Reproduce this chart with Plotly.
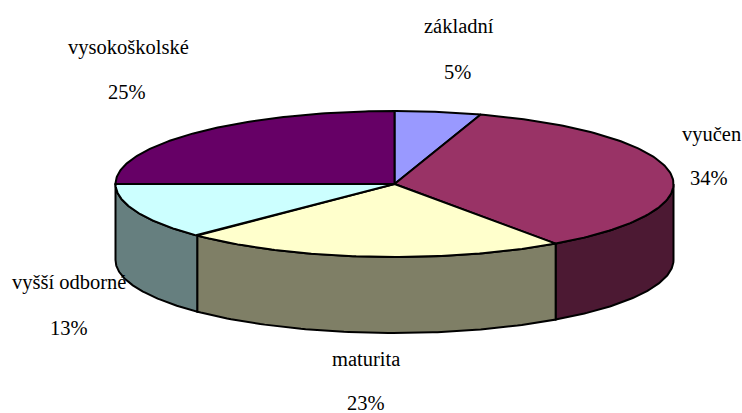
import numpy as np
import plotly.graph_objects as go

categories = ["základní", "vyučen", "maturita", "vyšší odborné", "vysokoškolské"]
values = [5.0, 35.2, 22.3, 12.5, 25.0]
percent_labels = ["5%", "34%", "23%", "13%", "25%"]
top_colors = ["#9999FF", "#993366", "#FFFFCC", "#CCFFFF", "#660066"]
side_colors = ["#4C4C7F", "#4C1933", "#7F7F66", "#667F7F", "#330033"]
label_centers = [(459, 26), (711, 134), (366, 359), (69, 282), (128, 47)]
percent_centers = [(457, 72), (709, 178), (366, 403), (69, 328), (127, 92)]

CX, CY, RX, RY, DEPTH = 394.5, 184, 279, 73, 76


def point(t, dz=0.0):
    return CX + RX * np.sin(t), CY - RY * np.cos(t) + dz


fig = go.Figure()
line = dict(color="black", width=2)
edges = np.cumsum([0] + values) / sum(values) * 2 * np.pi


def poly(xs, ys, color):
    fig.add_trace(go.Scatter(x=list(xs), y=list(ys), mode="lines", fill="toself",
                             fillcolor=color, line=line, hoverinfo="skip", showlegend=False))


for i in range(len(values)):
    a, b = max(edges[i], np.pi / 2), min(edges[i + 1], 3 * np.pi / 2)
    if b > a:
        t = np.linspace(a, b, 80)
        x1, y1 = point(t)
        x2, y2 = point(t[::-1], DEPTH)
        poly(np.r_[x1, x2, x1[0]], np.r_[y1, y2, y1[0]], side_colors[i])

for i in range(len(values)):
    t = np.linspace(edges[i], edges[i + 1], 120)
    x, y = point(t)
    poly(np.r_[CX, x, CX], np.r_[CY, y, CY], top_colors[i])

annotations = []
for txts, centers in ((categories, label_centers), (percent_labels, percent_centers)):
    for s, (x, y) in zip(txts, centers):
        annotations.append(dict(x=x, y=y, text=s, showarrow=False, xref="x", yref="y",
                                font=dict(family="Liberation Serif", size=20.5, color="black")))

fig.update_layout(
    width=742, height=413, margin=dict(l=0, r=0, t=0, b=0),
    paper_bgcolor="white", plot_bgcolor="white", annotations=annotations,
    xaxis=dict(range=[0, 742], visible=False, fixedrange=True),
    yaxis=dict(range=[413, 0], visible=False, fixedrange=True),
)
fig.write_html("out.html", config={"displayModeBar": False},
               post_script="document.body.style.margin='0';document.body.style.overflow='hidden';")
